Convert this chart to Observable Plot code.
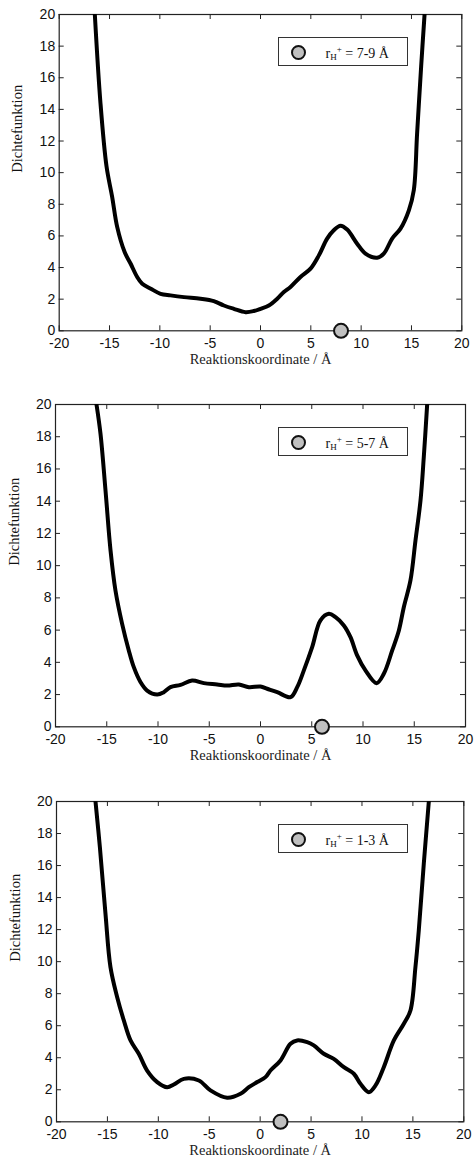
<!DOCTYPE html>
<html>
<head>
<meta charset="utf-8">
<script src="https://cdn.jsdelivr.net/npm/d3@7"></script>
<script src="https://cdn.jsdelivr.net/npm/@observablehq/plot@0.6"></script>
<style>
  html, body { margin: 0; padding: 0; background: white; }
  #wrap { position: relative; width: 474px; height: 1157px; overflow: hidden; }
  .panel { position: absolute; left: 0; width: 474px; }
  .legend { position: absolute; box-sizing: border-box; border: 1px solid #333; background: white;
            font-family: "Liberation Serif", serif; font-size: 14px; color: #111; }
  .legend .dot { position: absolute; width: 15px; height: 15px; border-radius: 50%; background: #c0c0c0;
                 border: 2px solid #111; box-sizing: border-box; }
  .legend .txt { position: absolute; white-space: nowrap; line-height: 1; }
  .legend sub { font-size: 9px; vertical-align: -2px; }
  .legend sup { font-size: 9px; vertical-align: 6px; }
</style>
</head>
<body>
<div id="wrap"></div>
<script>
// ---- data ----
const xTicks = [-20, -15, -10, -5, 0, 5, 10, 15, 20];
const yTicks = [0, 2, 4, 6, 8, 10, 12, 14, 16, 18, 20];
const xLabel = "Reaktionskoordinate / Å";
const yLabel = "Dichtefunktion";

const rangeLabels = ["7-9", "5-7", "1-3"];
const markerX = [8, 6, 2];

const p1X = [-16.46,-15.9,-15.3,-14.74,-14.24,-13.5,-12.9,-12.25,-11.75,-10.9,-9.93,-8.94,-7.6,-5.96,-4.64,-3.64,-2.65,-1.49,-0.66,0.0,0.83,1.66,2.32,2.98,3.97,4.97,5.8,6.62,7.28,7.95,8.61,9.6,10.43,11.59,12.25,13.08,13.91,14.74,15.23,15.56,15.96,16.3];
const p1Y = [20,14.4,10.4,8.47,6.57,4.98,4.24,3.4,2.98,2.66,2.34,2.24,2.13,2.03,1.88,1.6,1.39,1.18,1.25,1.39,1.6,2.03,2.45,2.77,3.4,3.93,4.77,5.83,6.36,6.65,6.4,5.51,4.88,4.62,4.88,5.83,6.46,7.62,8.89,12.48,16.7,20];

const p2X = [-16.0,-15.61,-15.12,-14.63,-14.15,-13.5,-12.85,-12.36,-11.7,-11.06,-10.08,-9.43,-8.78,-7.8,-6.67,-5.53,-4.23,-3.25,-2.11,-1.14,0.0,0.65,1.63,2.93,3.58,4.23,5.04,5.85,6.67,7.32,8.13,8.78,9.43,10.24,11.32,12.03,12.85,13.5,13.98,14.63,15.12,15.61,15.93,16.26];
const p2Y = [20,18.18,14.66,10.94,8.46,6.39,4.74,3.7,2.77,2.25,2.0,2.15,2.46,2.6,2.87,2.71,2.63,2.56,2.63,2.46,2.5,2.36,2.15,1.84,2.46,3.5,4.94,6.6,7.01,6.8,6.29,5.56,4.43,3.5,2.71,3.29,4.74,5.98,7.42,9.08,11.56,14.04,16.73,20];

const p3X = [-16.17,-15.74,-15.19,-14.7,-14.04,-13.39,-12.73,-11.92,-11.1,-10.11,-9.13,-8.48,-7.5,-6.02,-4.88,-3.24,-1.93,-1.11,-0.29,0.52,1.01,2.0,2.98,3.63,4.62,5.27,6.25,7.23,8.22,9.2,9.85,10.67,11.33,12.14,13.13,14.11,14.76,15.25,15.58,16.07,16.56];
const p3Y = [20,17.15,12.99,9.66,7.78,6.33,5.08,4.25,3.2,2.48,2.16,2.33,2.68,2.58,1.96,1.5,1.75,2.16,2.48,2.79,3.2,3.83,4.87,5.08,4.97,4.77,4.25,3.93,3.41,3.0,2.37,1.85,2.27,3.41,5.08,6.12,6.95,9.66,11.95,16.11,19.96];

const seriesX = [p1X, p2X, p3X];
const seriesY = [p1Y, p2Y, p3Y];

// ---- layout ----
const panels = [
  {top: 0,   height: 390, mt: 14, mb: 59.7, ml: 58.7, mr: 12.7, ylx: -41.5, xly: 28.5},
  {top: 390, height: 390, mt: 14, mb: 53.7, ml: 55,   mr: 9,    ylx: -41.5, xly: 29},
  {top: 780, height: 377, mt: 21, mb: 35.7, ml: 56,   mr: 10.7, ylx: -41,   xly: 29}
];

const wrap = document.getElementById("wrap");

panels.forEach((p, k) => {
  const data = seriesX[k].map((x, i) => ({x, y: seriesY[k][i]}));
  const marker = [{x: markerX[k], y: 0}];
  const tl = 5;
  const chart = Plot.plot({
    width: 474,
    height: p.height,
    marginTop: p.mt,
    marginBottom: p.mb,
    marginLeft: p.ml,
    marginRight: p.mr,
    style: {fontFamily: "'Liberation Sans', Arial, sans-serif", fontSize: "14px", background: "white", color: "#111", overflow: "visible"},
    x: {domain: [-20, 20]},
    y: {domain: [0, 20]},
    marks: [
      Plot.axisX({ticks: xTicks, tickSize: 0, tickPadding: 7, tickFormat: d => String(d), label: null}),
      Plot.axisY({ticks: yTicks, tickSize: 0, tickPadding: 4, tickFormat: d => String(d), label: null}),
      Plot.ruleX(xTicks, {x: d => d, y1: 0, y2: 0, insetTop: -tl, stroke: "#222"}),
      Plot.ruleX(xTicks, {x: d => d, y1: 20, y2: 20, insetBottom: -tl, stroke: "#222"}),
      Plot.ruleY(yTicks, {y: d => d, x1: -20, x2: -20, insetRight: -tl, stroke: "#222"}),
      Plot.ruleY(yTicks, {y: d => d, x1: 20, x2: 20, insetLeft: -tl, stroke: "#222"}),
      Plot.frame({stroke: "#222", strokeWidth: 1.2}),
      Plot.line(data, {x: "x", y: "y", stroke: "#000", strokeWidth: 4, curve: "catmull-rom", clip: true}),
      Plot.dot(marker, {x: "x", y: "y", r: 7, fill: "#c0c0c0", stroke: "#111", strokeWidth: 2}),
      Plot.text([xLabel], {frameAnchor: "bottom", dy: p.xly, lineAnchor: "middle", fontFamily: "'Liberation Serif', serif", fontSize: 14.5, fill: "#222"}),
      Plot.text([yLabel], {frameAnchor: "left", dx: p.ylx, rotate: -90, lineAnchor: "middle", fontFamily: "'Liberation Serif', serif", fontSize: 14.5, fill: "#111"})
    ]
  });
  const div = document.createElement("div");
  div.className = "panel";
  div.style.top = p.top + "px";
  div.style.height = p.height + "px";
  div.appendChild(chart);

  const lg = document.createElement("div");
  lg.className = "legend";
  lg.style.left = "277.5px";
  lg.style.top = (p.mt + 22.5) + "px";
  lg.style.width = "130px";
  lg.style.height = "29.5px";
  const dot = document.createElement("div");
  dot.className = "dot";
  dot.style.left = "12.5px";
  dot.style.top = "7px";
  lg.appendChild(dot);
  const txt = document.createElement("div");
  txt.className = "txt";
  txt.style.left = "47px";
  txt.style.top = "7.5px";
  txt.innerHTML = "r<sub>H</sub><sup>+</sup> = " + rangeLabels[k] + " Å";
  lg.appendChild(txt);
  div.appendChild(lg);

  wrap.appendChild(div);
});
</script>
</body>
</html>
